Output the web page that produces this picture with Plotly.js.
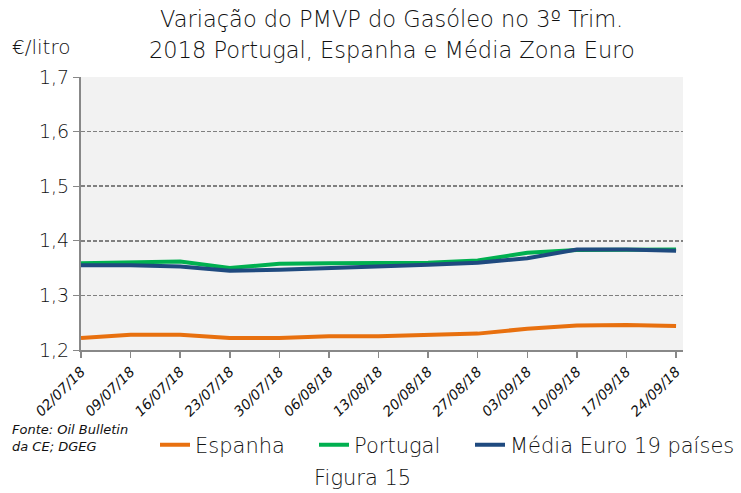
<!DOCTYPE html>
<html><head><meta charset="utf-8">
<script src="https://cdn.plot.ly/plotly-3.0.1.min.js"></script>
<style>html,body{margin:0;padding:0;background:#fff;overflow:hidden}</style>
</head><body><div id="chart" style="width:741px;height:493px"></div>
<script>
const dates = ["02/07/18","09/07/18","16/07/18","23/07/18","30/07/18","06/08/18","13/08/18","20/08/18","27/08/18","03/09/18","10/09/18","17/09/18","24/09/18"];
const espanha = [1.222,1.228,1.228,1.222,1.222,1.225,1.225,1.227,1.230,1.239,1.245,1.246,1.244];
const portugal = [1.359,1.361,1.362,1.350,1.358,1.359,1.359,1.360,1.364,1.378,1.383,1.384,1.384];
const mediaEuro = [1.355,1.355,1.353,1.345,1.347,1.350,1.352,1.356,1.360,1.368,1.384,1.384,1.382];
const yTicks = [1.2,1.3,1.4,1.5,1.6,1.7];
const titleLines = ["Variação do PMVP do Gasóleo no 3º Trim.", "2018 Portugal, Espanha e Média Zona Euro"];

const FONT = "'DejaVu Sans', sans-serif";
const W = 200;
const C = "#111";
const PL = 81, PT = 77, PW = 602, PH = 273;
const px = v => (v - PL) / PW;
const py = v => (PT + PH - v) / PH;
const traces = [
  {x: dates, y: espanha, name: "Espanha", mode: "lines", line: {color: "#E8700F", width: 4}, legend: "legend"},
  {x: dates, y: portugal, name: "Portugal", mode: "lines", line: {color: "#00B050", width: 4}, legend: "legend2"},
  {x: dates, y: mediaEuro, name: "Média Euro 19 países", mode: "lines", line: {color: "#1F4A7F", width: 4}, legend: "legend3"}
];
function ann(text, x, y, size, opts) {
  return Object.assign({text: text, xref: "paper", yref: "paper", x: px(x), y: py(y), showarrow: false,
    font: {size: size, family: FONT, color: C, weight: W}}, opts || {});
}
function leg(x) {
  return {orientation: "h", x: px(x), xanchor: "left", yref: "container", y: 1 - 445/493, yanchor: "middle",
          font: {size: 21, family: FONT, color: C, weight: W}, bgcolor: "rgba(0,0,0,0)", itemwidth: 30};
}
const layout = {
  width: 741, height: 493,
  margin: {l: PL, r: 741 - PL - PW, t: PT, b: 493 - PT - PH, autoexpand: false},
  paper_bgcolor: "#ffffff",
  plot_bgcolor: "#F2F2F2",
  separators: ",.",
  font: {family: FONT, color: C, weight: W},
  xaxis: {type: "category", range: [0, 12.14], showgrid: false, zeroline: false, automargin: false,
          showline: true, linecolor: "#888", linewidth: 2, ticks: "outside", ticklen: 6, tickcolor: "#888", tickwidth: 1.5,
          tickangle: -45, tickfont: {size: 14, family: FONT, color: C, style: "italic", weight: W}},
  yaxis: {range: [1.2, 1.7], tickvals: yTicks, tickformat: ".1f", showgrid: true, gridcolor: "#808080", griddash: "4px,2px", gridwidth: 1.5,
          zeroline: false, showline: true, linecolor: "#888", linewidth: 2, ticks: "outside", ticklen: 6, tickcolor: "#888", automargin: false,
          tickfont: {size: 19, family: FONT, color: C, weight: W}},
  showlegend: true,
  legend: leg(155),
  legend2: leg(314),
  legend3: leg(470),
  annotations: [
    ann(titleLines[0], 391, 19, 22.5, {xanchor: "center", yanchor: "middle"}),
    ann(titleLines[1], 392, 50, 22.5, {xanchor: "center", yanchor: "middle"}),
    ann("€/litro", 10, 47, 20, {xanchor: "left", yanchor: "middle"}),
    ann("Fonte: Oil Bulletin<br>da CE; DGEG", 10, 438, 13, {xanchor: "left", yanchor: "middle", align: "left",
        font: {size: 13, family: FONT, color: C, weight: W, style: "italic"}}),
    ann("Figura 15", 362, 478, 21, {xanchor: "center", yanchor: "middle"})
  ]
};
Plotly.newPlot("chart", traces, layout, {displayModeBar: false, staticPlot: true});
</script></body></html>
